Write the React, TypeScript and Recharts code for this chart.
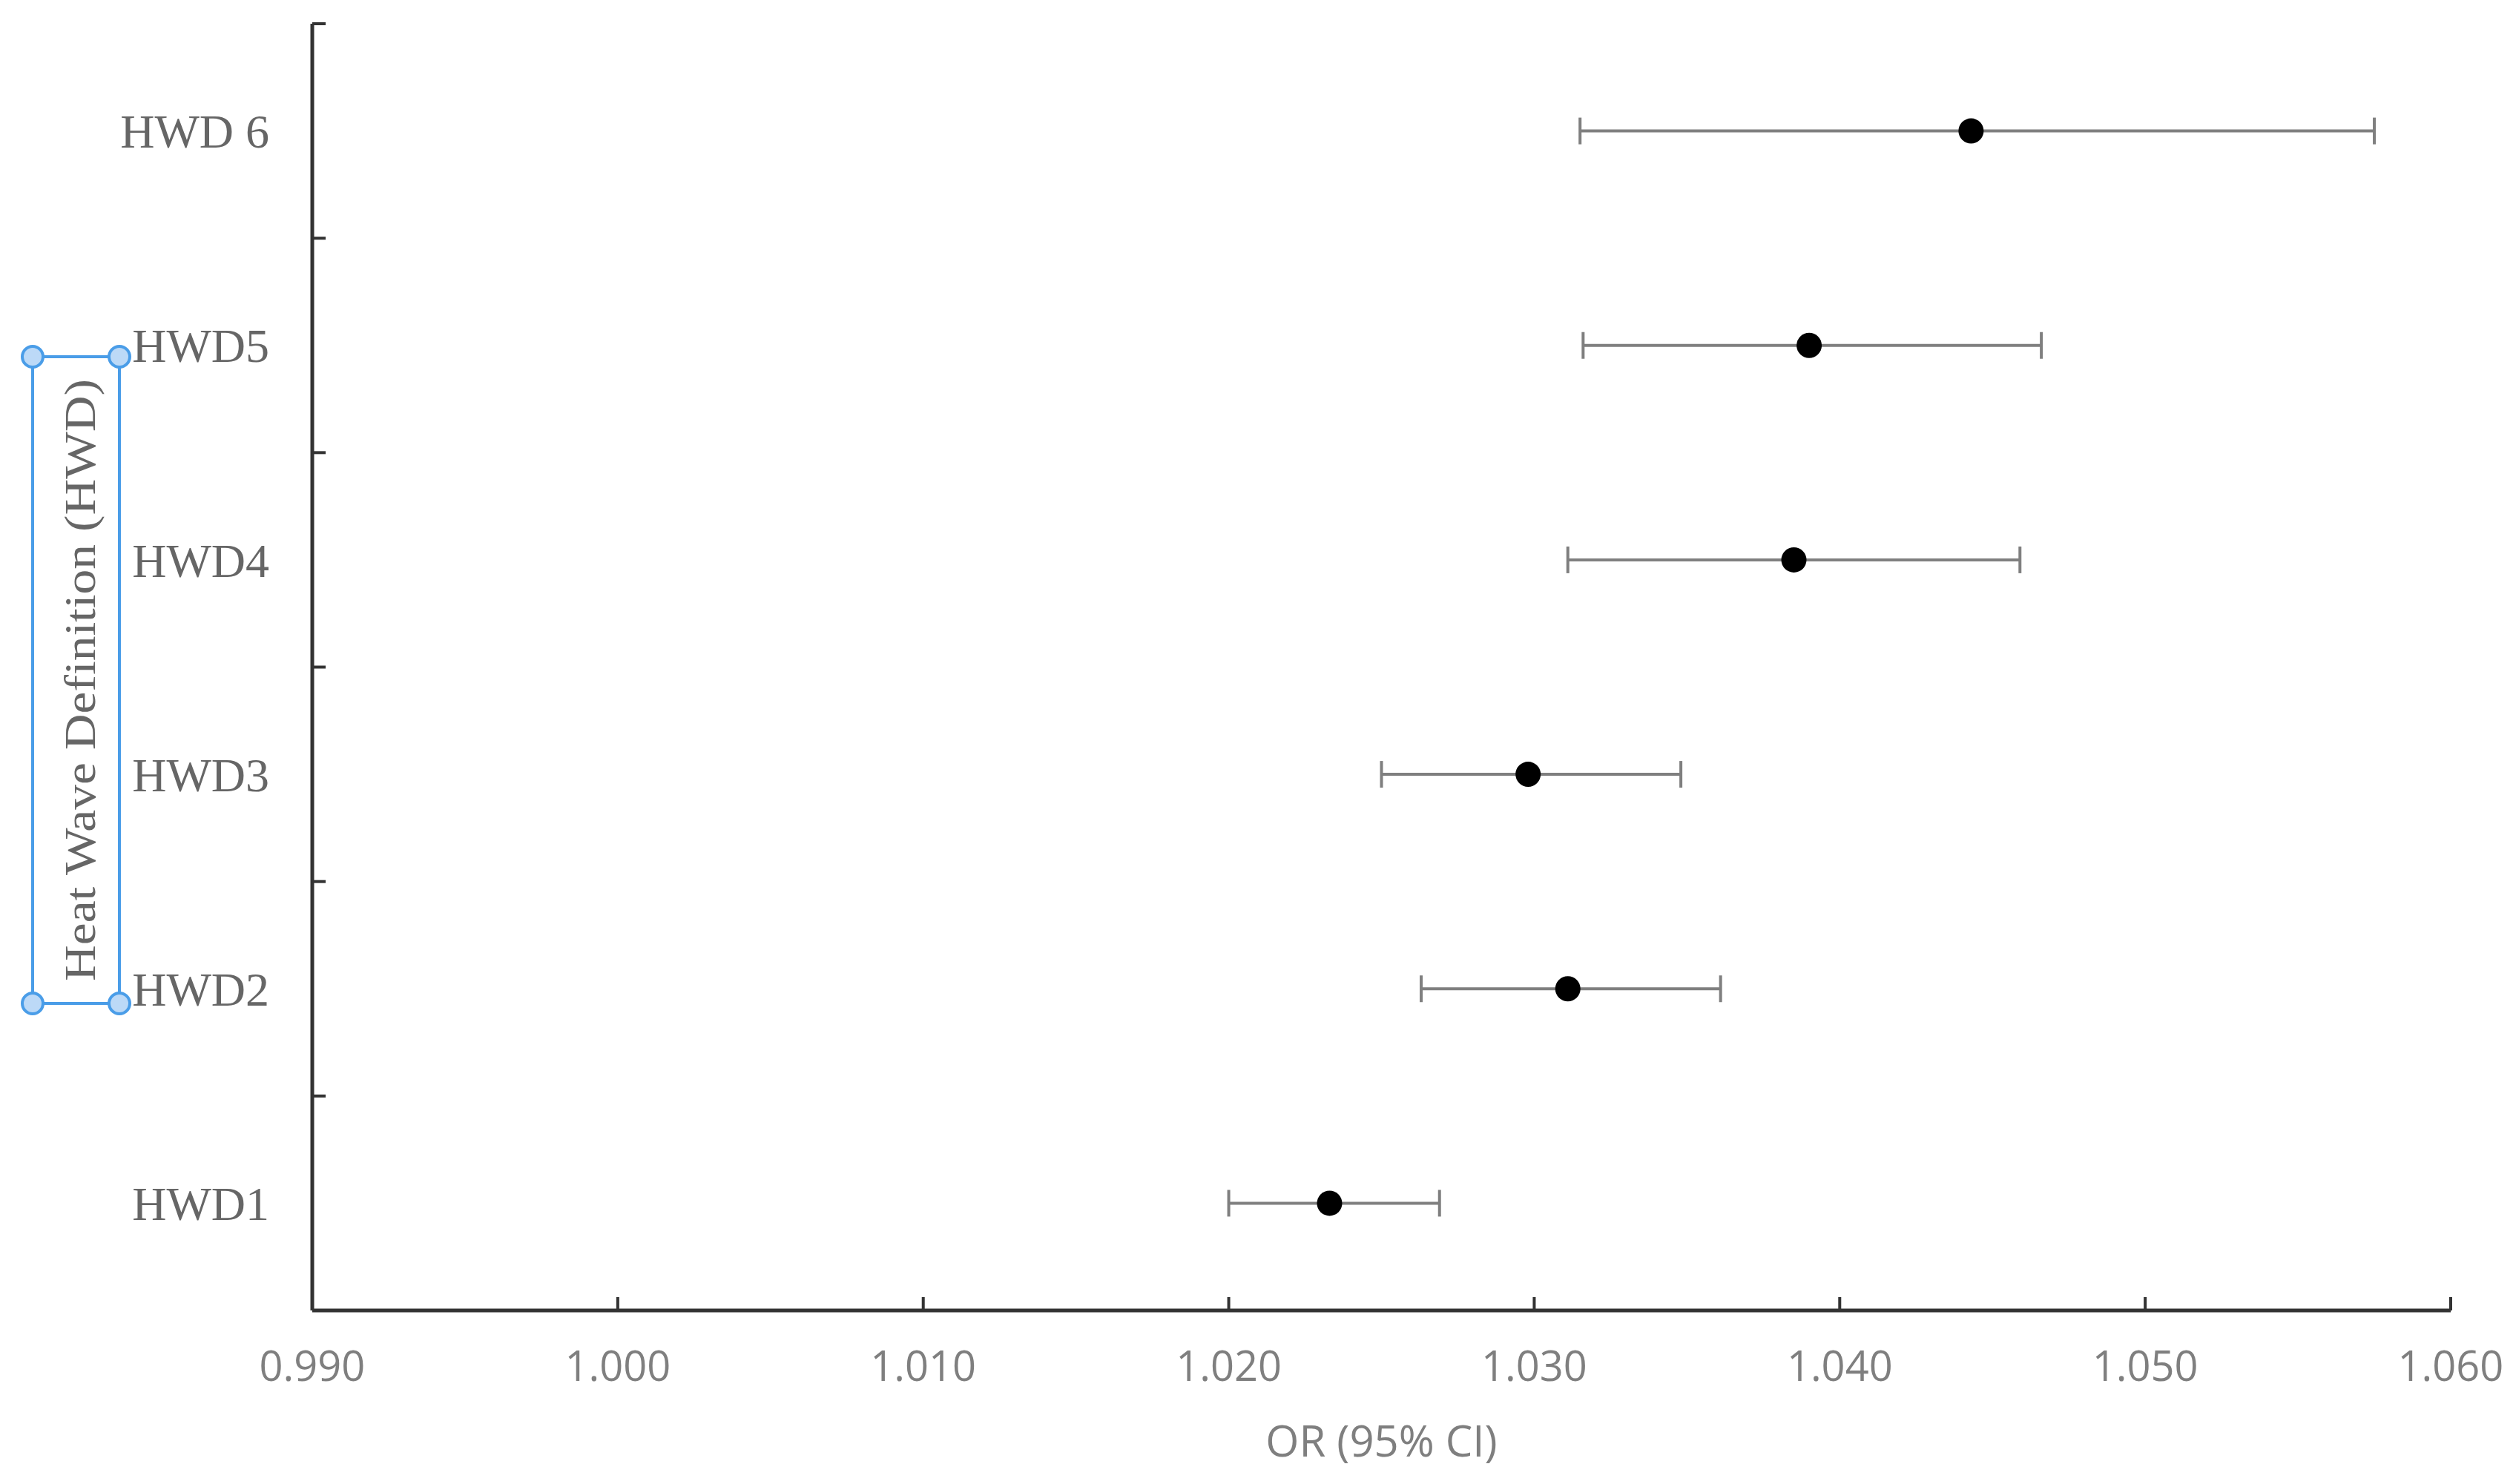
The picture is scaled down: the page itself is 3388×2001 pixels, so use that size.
import { ScatterChart, Scatter, XAxis, YAxis, ErrorBar } from 'recharts';

const definitions = ['HWD1', 'HWD2', 'HWD3', 'HWD4', 'HWD5', 'HWD 6'];
const rowPositions = [1, 2, 3, 4, 5, 6];
const rowBoundaries = [0.5, 1.5, 2.5, 3.5, 4.5, 5.5, 6.5];
const oddsRatios = [1.0233, 1.0311, 1.0298, 1.0385, 1.039, 1.0443];
const lowerCI = [1.02, 1.0263, 1.025, 1.0311, 1.0316, 1.0315];
const upperCI = [1.0269, 1.0361, 1.0348, 1.0459, 1.0466, 1.0575];
const xTicks = [0.99, 1.0, 1.01, 1.02, 1.03, 1.04, 1.05, 1.06];

const chartData = rowPositions.map((row, i) => ({
  row,
  or: oddsRatios[i],
  err: [oddsRatios[i] - lowerCI[i], upperCI[i] - oddsRatios[i]],
}));

// y ticks: boundaries get a tick mark, centres get the name
const yTicks = [...rowBoundaries, ...rowPositions].sort((a, b) => a - b);

const axisColor = '#333';
const TICK_LEN = 18;

function Dot(props: any) {
  const { cx, cy } = props;
  if (cx == null || cy == null) return null;
  return <circle cx={cx} cy={cy} r={17} fill="#000" />;
}

// x axis: inward tick mark + label below
function XTick(props: any) {
  const { x, y, payload } = props;
  return (
    <g>
      <rect x={x - 2} y={y - TICK_LEN} width={4} height={TICK_LEN} fill={axisColor} />
      <text x={x} y={y + 55} dy="0.71em" textAnchor="middle" fill="#7f7f7f" fontSize={56} fontFamily="Open Sans">
        {Number(payload.value).toFixed(3)}
      </text>
    </g>
  );
}

// y axis: inward tick at band boundaries, name at band centres
function YTick(props: any) {
  const { x, y, payload } = props;
  const idx = rowPositions.indexOf(payload.value);
  if (idx < 0) {
    return <rect x={x} y={y - 2} width={TICK_LEN} height={4} fill={axisColor} />;
  }
  return (
    <text x={x - 58} y={y} dy="0.355em" textAnchor="end" fill="#666" fontSize={64} fontFamily="Liberation Serif">
      {definitions[idx]}
    </text>
  );
}

export default function App() {
  return (
    <div style={{ position: 'absolute', left: 0, top: 0, width: 3388, height: 2001, background: '#fff' }}>
      <ScatterChart width={3388} height={2001} margin={{ top: 32, right: 84, bottom: 0, left: 0 }}>
        <XAxis
          dataKey="or"
          type="number"
          domain={[0.99, 1.06]}
          ticks={xTicks}
          interval={0}
          allowDataOverflow
          height={234}
          axisLine={{ stroke: axisColor, strokeWidth: 5 }}
          tickLine={false}
          tickSize={0}
          tickMargin={0}
          tick={<XTick />}
          label={{
            value: 'OR (95% CI)',
            position: 'insideBottom',
            offset: 37,
            fill: '#7f7f7f',
            fontSize: 58,
            fontFamily: 'Open Sans',
          }}
        />
        <YAxis
          dataKey="row"
          type="number"
          domain={[0.5, 6.5]}
          ticks={yTicks}
          interval={0}
          width={421}
          axisLine={{ stroke: axisColor, strokeWidth: 5 }}
          tickLine={false}
          tickSize={0}
          tickMargin={0}
          tick={<YTick />}
        />
        <Scatter data={chartData} shape={<Dot />} isAnimationActive={false}>
          <ErrorBar dataKey="err" direction="x" width={18} stroke="#7f7f7f" strokeWidth={4} />
        </Scatter>
      </ScatterChart>
      <svg width={3388} height={2001} style={{ position: 'absolute', left: 0, top: 0, pointerEvents: 'none' }}>
        <rect x={44} y={481} width={117} height={872} fill="none" stroke="#4a9de8" strokeWidth={4} />
        <text
          x={0}
          y={0}
          transform="translate(128 917) rotate(-90)"
          textAnchor="middle"
          fill="#666"
          fontSize={60}
          fontFamily="Liberation Serif"
          textLength={812}
          lengthAdjust="spacingAndGlyphs"
        >
          Heat Wave Definition (HWD)
        </text>
        {[[44, 481], [161, 481], [44, 1353], [161, 1353]].map(([cx, cy], i) => (
          <circle key={i} cx={cx} cy={cy} r={14} fill="#bcd9f7" stroke="#4a9de8" strokeWidth={4} />
        ))}
      </svg>
    </div>
  );
}
